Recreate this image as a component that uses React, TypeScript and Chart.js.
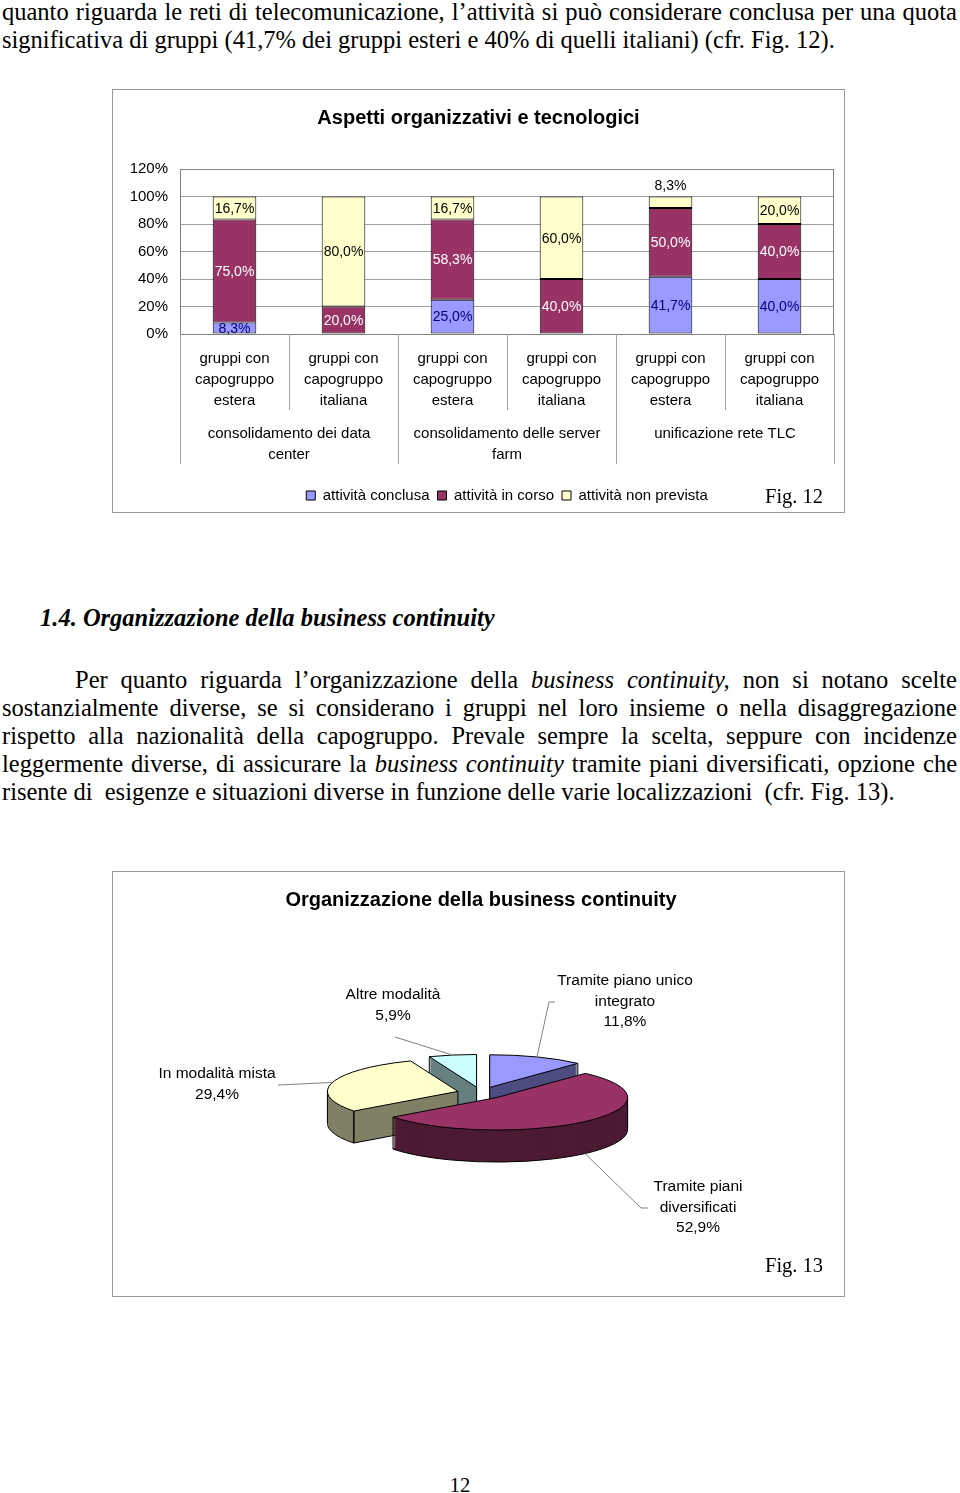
import React, { useEffect, useRef } from "react";
import { Chart, registerables } from "chart.js";

Chart.register(...registerables);

// ---------------- Fig. 12 data ----------------
const SUB_CATEGORIES: string[][] = [
  ["gruppi con", "capogruppo", "estera"],
  ["gruppi con", "capogruppo", "italiana"],
  ["gruppi con", "capogruppo", "estera"],
  ["gruppi con", "capogruppo", "italiana"],
  ["gruppi con", "capogruppo", "estera"],
  ["gruppi con", "capogruppo", "italiana"],
];
const GROUP_LABELS: string[][] = [
  ["consolidamento dei data", "center"],
  ["consolidamento delle server", "farm"],
  ["unificazione rete TLC"],
];
const SERIES_NAMES = ["attività conclusa", "attività in corso", "attività non prevista"];
const CONCLUSA = [8.3, 0, 25.0, 0, 41.7, 40.0];
const IN_CORSO = [75.0, 20.0, 58.3, 40.0, 50.0, 40.0];
const NON_PREVISTA = [16.7, 80.0, 16.7, 60.0, 8.3, 20.0];
const Y_MIN = 0;
const Y_MAX = 120;
const Y_STEP = 20;

// ---------------- Fig. 13 data ----------------
const PIE_CATEGORIES = [
  "Tramite piano unico integrato",
  "Tramite piani diversificati",
  "In modalità mista",
  "Altre modalità",
];
const PIE_VALUES = [11.8, 52.9, 29.4, 5.9];
const PIE_LABEL_LINES: string[][] = [
  ["Tramite piano unico", "integrato"],
  ["Tramite piani", "diversificati"],
  ["In modalità mista"],
  ["Altre modalità"],
];

// ---------------- styles / layout ----------------
const SANS = "'Liberation Sans', Arial, sans-serif";
const SERIF = "'Liberation Serif', 'Times New Roman', serif";
const BAR_COLORS = ["#9999FF", "#993366", "#FFFFCC"];
const BAR_LABEL_COLORS = ["#000080", "#FFFFFF", "#000000"];
const PIE_COLORS = ["#9999FF", "#993366", "#FFFFCC", "#CCFFFF"];
const PIE_SIDE_COLORS = ["#4D4D80", "#4D1A33", "#808066", "#668080"];
const BOX1 = { left: 112, top: 89, width: 733, height: 424 };
const BOX2 = { left: 112, top: 871, width: 733, height: 426 };
// label blocks of the pie (page coordinates): centre x, first line y, leader start points
const PIE_LABEL_LAYOUT = [
  { cx: 625, y: 981, from: [[555, 1002], [549, 1002]] },
  { cx: 698, y: 1187, from: [[648, 1208], [641, 1208]] },
  { cx: 217, y: 1074, from: [[278, 1085]] },
  { cx: 393, y: 995, from: [[395, 1037]] },
];
const K = 0.25; // vertical squash of the pie
const DEPTH = 32; // thickness of the 3D pie
const EXPLODE = 24; // explosion of slices

const fmtPct = (v: number) => v.toFixed(1).replace(".", ",") + "%";

function BarChart() {
  const ref = useRef<HTMLCanvasElement>(null);
  useEffect(() => {
    const labelPlugin = {
      id: "barLabels",
      afterDatasetsDraw(chart: any) {
        const ctx = chart.ctx;
        ctx.save();
        ctx.font = `14px ${SANS}`;
        ctx.textAlign = "center";
        ctx.textBaseline = "middle";
        const n = chart.data.datasets.length;
        chart.data.datasets.forEach((ds: any, i: number) => {
          const meta = chart.getDatasetMeta(i);
          meta.data.forEach((bar: any, j: number) => {
            const v = ds.data[j];
            if (!v) return;
            const above = i === n - 1 && v < 10;
            ctx.fillStyle = above ? "#000" : BAR_LABEL_COLORS[i];
            const y = above ? bar.y - 10 : (bar.y + bar.base) / 2 + 1;
            ctx.fillText(fmtPct(v), bar.x, y);
          });
        });
        ctx.restore();
      },
    };
    const framePlugin = {
      id: "frame",
      beforeDatasetsDraw(chart: any) {
        const ctx = chart.ctx;
        const { left, top, right, bottom } = chart.chartArea;
        ctx.save();
        ctx.strokeStyle = "#808080";
        ctx.lineWidth = 1;
        ctx.strokeRect(Math.round(left) + 0.5, Math.round(top) + 0.5, Math.round(right - left) - 1, Math.round(bottom - top));
        ctx.restore();
      },
      afterDraw(chart: any) {
        const ctx = chart.ctx;
        const xs = chart.scales.x;
        const bottom = chart.chartArea.bottom;
        ctx.save();
        ctx.strokeStyle = "#A0A0A0";
        ctx.lineWidth = 1;
        ctx.beginPath();
        for (let i = 0; i <= SUB_CATEGORIES.length; i++) {
          const x = Math.round(xs.getPixelForValue(i - 0.5)) + 0.5;
          const len = i % 2 === 0 ? 130 : 76;
          ctx.moveTo(x, bottom);
          ctx.lineTo(x, bottom + len);
        }
        ctx.stroke();
        ctx.restore();
      },
    };
    const tickFont = { family: SANS, size: 15, lineHeight: 1.37 };
    const chart = new Chart(ref.current!, {
      type: "bar",
      data: {
        labels: SUB_CATEGORIES,
        datasets: [CONCLUSA, IN_CORSO, NON_PREVISTA].map((d, i) => ({
          label: SERIES_NAMES[i],
          data: d,
          backgroundColor: BAR_COLORS[i],
          borderColor: "#000",
          borderWidth: 1,
          borderSkipped: false,
          barPercentage: 0.4,
          categoryPercentage: 1,
        })),
      },
      options: {
        responsive: false,
        animation: false,
        layout: { padding: { left: 11, right: 11, top: 0, bottom: 0 } },
        scales: {
          x: {
            stacked: true,
            grid: { display: false, drawTicks: false },
            border: { display: false },
            ticks: { font: tickFont, color: "#000", padding: 15, autoSkip: false, maxRotation: 0 },
            afterFit: (s: any) => {
              s.height = 88;
            },
          },
          x2: {
            type: "category",
            labels: GROUP_LABELS as any,
            position: "bottom",
            offset: true,
            weight: 1,
            grid: { display: false, drawTicks: false },
            border: { display: false },
            ticks: { font: tickFont, color: "#000", padding: 2, autoSkip: false, maxRotation: 0 },
            afterFit: (s: any) => {
              s.height = 58;
            },
          },
          y: {
            stacked: true,
            min: Y_MIN,
            max: Y_MAX,
            grid: { color: "#A0A0A0", drawTicks: false },
            border: { display: false },
            ticks: {
              stepSize: Y_STEP,
              padding: 12,
              color: "#000",
              font: { family: SANS, size: 15 },
              callback: (v: any) => v + "%",
            },
            afterFit: (s: any) => {
              s.width = 57;
            },
          },
        },
        plugins: {
          title: {
            display: true,
            text: "Aspetti organizzativi e tecnologici",
            color: "#000",
            font: { family: SANS, size: 20, weight: "bold", lineHeight: 1.2 },
            padding: { top: 17, bottom: 39 },
          },
          legend: {
            position: "bottom",
            fullSize: false,
            labels: {
              boxWidth: 9,
              boxHeight: 9,
              padding: 8,
              color: "#000",
              font: { family: SANS, size: 15 },
            },
          },
          tooltip: { enabled: false },
        },
      } as any,
      plugins: [framePlugin, labelPlugin],
    });
    return () => chart.destroy();
  }, []);
  return (
    <canvas
      ref={ref}
      width={BOX1.width}
      height={BOX1.height}
      style={{ position: "absolute", left: BOX1.left, top: BOX1.top, width: BOX1.width, height: BOX1.height }}
    />
  );
}

function PieChart() {
  const ref = useRef<HTMLCanvasElement>(null);
  useEffect(() => {
    const squash = (ctx: any, cx: number, cy: number) => {
      ctx.translate(cx, cy);
      ctx.scale(1, K);
      ctx.translate(-cx, -cy);
    };
    const center = (chart: any) => {
      const { left, right, top, bottom } = chart.chartArea;
      return [(left + right) / 2, (top + bottom) / 2];
    };
    const drawArcAs = (arc: any, ctx: any, color: string) => {
      const fake = Object.create(arc);
      fake.options = Object.assign({}, arc.options, { backgroundColor: color, borderColor: color, borderWidth: 0 });
      arc.draw.call(fake, ctx);
    };
    const strokeArc = (ctx: any, a: any, cx: number, cy: number, dy: number) => {
      ctx.save();
      ctx.translate(0, dy);
      squash(ctx, cx, cy);
      ctx.beginPath();
      ctx.moveTo(a.x, a.y);
      ctx.arc(a.x, a.y, a.outerRadius, a.startAngle, a.endAngle);
      ctx.closePath();
      ctx.restore();
      ctx.save();
      ctx.strokeStyle = "#000";
      ctx.lineWidth = 1;
      ctx.stroke();
      ctx.restore();
    };
    const TAU = Math.PI * 2;
    const norm = (t: number) => ((t % TAU) + TAU) % TAU;
    const pie3d = {
      id: "pie3d",
      afterUpdate(chart: any) {
        chart.getDatasetMeta(0).data.forEach((a: any) => {
          const m = (a.startAngle + a.endAngle) / 2;
          a.x += Math.cos(m) * EXPLODE;
          a.y += Math.sin(m) * EXPLODE;
        });
      },
      beforeDatasetsDraw(chart: any) {
        const ctx = chart.ctx;
        const [cx, cy] = center(chart);
        const arcs = chart.getDatasetMeta(0).data;
        for (let d = DEPTH; d >= 1; d--) {
          ctx.save();
          ctx.translate(0, d);
          squash(ctx, cx, cy);
          arcs.forEach((a: any, i: number) => drawArcAs(a, ctx, PIE_SIDE_COLORS[i]));
          ctx.restore();
          if (d === DEPTH) arcs.forEach((a: any) => strokeArc(ctx, a, cx, cy, d));
        }
        // vertical edges of the side faces
        ctx.save();
        ctx.strokeStyle = "#000";
        ctx.lineWidth = 1;
        ctx.beginPath();
        arcs.forEach((a: any) => {
          const s = a.startAngle;
          const e = a.endAngle;
          const r = a.outerRadius;
          const within = (t: number) => {
            const ts = norm(t - s);
            return ts > 0 && ts < e - s;
          };
          const angles: number[] = [];
          [0, Math.PI].forEach((t) => {
            if (within(t)) angles.push(t);
          });
          [s, e].forEach((t) => {
            if (Math.sin(t) > 0.01) angles.push(t);
          });
          const startFace = Math.sin(s - Math.PI / 2) > 0.01;
          const endFace = Math.sin(e + Math.PI / 2) > 0.01;
          if (startFace) angles.push(s);
          if (endFace) angles.push(e);
          const pts = angles.map((t) => [a.x + Math.cos(t) * r, cy + (a.y + Math.sin(t) * r - cy) * K]);
          if (startFace || endFace) pts.push([a.x, cy + (a.y - cy) * K]);
          pts.forEach(([x, y]) => {
            ctx.moveTo(x, y);
            ctx.lineTo(x, y + DEPTH);
          });
        });
        ctx.stroke();
        ctx.restore();
        ctx.save();
        squash(ctx, cx, cy);
      },
      afterDatasetsDraw(chart: any) {
        const ctx = chart.ctx;
        ctx.restore();
        const [cx, cy] = center(chart);
        chart.getDatasetMeta(0).data.forEach((a: any) => strokeArc(ctx, a, cx, cy, 0));
      },
      afterDraw(chart: any) {
        const ctx = chart.ctx;
        const [cx, cy] = center(chart);
        const arcs = chart.getDatasetMeta(0).data;
        ctx.save();
        ctx.font = `15.5px ${SANS}`;
        ctx.textAlign = "center";
        ctx.textBaseline = "middle";
        ctx.fillStyle = "#000";
        PIE_LABEL_LAYOUT.forEach((L, i) => {
          const lines = [...PIE_LABEL_LINES[i], fmtPct(PIE_VALUES[i])];
          lines.forEach((t, k) => ctx.fillText(t, L.cx - BOX2.left, L.y - BOX2.top + k * 20.5));
          const a = arcs[i];
          const m = (a.startAngle + a.endAngle) / 2;
          const ax = a.x + Math.cos(m) * a.outerRadius;
          let ay = cy + (a.y + Math.sin(m) * a.outerRadius - cy) * K;
          if (Math.sin(m) > 0) ay += DEPTH;
          ctx.strokeStyle = "#808080";
          ctx.lineWidth = 1;
          ctx.beginPath();
          L.from.forEach(([x, y], k) => {
            if (k === 0) ctx.moveTo(x - BOX2.left, y - BOX2.top);
            else ctx.lineTo(x - BOX2.left, y - BOX2.top);
          });
          ctx.lineTo(ax, ay);
          ctx.stroke();
        });
        ctx.restore();
      },
    };
    const chart = new Chart(ref.current!, {
      type: "pie",
      data: {
        labels: PIE_CATEGORIES,
        datasets: [
          {
            data: PIE_VALUES,
            backgroundColor: PIE_COLORS,
            borderWidth: 0,
            clip: false,
          } as any,
        ],
      },
      options: {
        responsive: false,
        animation: false,
        layout: { padding: { left: 100, right: 95, top: 0, bottom: 73.5 } },
        plugins: {
          title: {
            display: true,
            text: "Organizzazione della business continuity",
            color: "#000",
            font: { family: SANS, size: 20, weight: "bold", lineHeight: 1.2 },
            padding: { top: 17, bottom: 50.5 },
          },
          legend: { display: false },
          tooltip: { enabled: false },
        },
      } as any,
      plugins: [pie3d],
    });
    return () => chart.destroy();
  }, []);
  return (
    <canvas
      ref={ref}
      width={BOX2.width}
      height={BOX2.height}
      style={{ position: "absolute", left: BOX2.left, top: BOX2.top, width: BOX2.width, height: BOX2.height }}
    />
  );
}

const textBase: React.CSSProperties = {
  position: "absolute",
  fontFamily: SERIF,
  fontSize: 24.5,
  lineHeight: "28px",
  color: "#000",
  margin: 0,
  whiteSpace: "nowrap",
};

function Line({ y, left, width, justify, children, style }: any) {
  return (
    <div
      style={{
        ...textBase,
        top: y - 14,
        left,
        width,
        textAlign: justify ? "justify" : "left",
        textAlignLast: justify ? "justify" : "auto",
        whiteSpace: justify ? "normal" : "nowrap",
        ...style,
      }}
    >
      {children}
    </div>
  );
}

export default function App() {
  const boxStyle = (b: any): React.CSSProperties => ({
    position: "absolute",
    left: b.left,
    top: b.top,
    width: b.width,
    height: b.height,
    border: "1px solid #999",
    boxSizing: "border-box",
  });
  return (
    <div style={{ position: "absolute", left: 0, top: 0, width: 960, height: 1493, background: "#fff", overflow: "hidden" }}>
      <Line y={12} left={2} width={955} justify>
        quanto riguarda le reti di telecomunicazione, l’attività si può considerare conclusa per una quota
      </Line>
      <Line y={40} left={2} width={955}>
        significativa di gruppi (41,7% dei gruppi esteri e 40% di quelli italiani) (cfr. Fig. 12).
      </Line>

      <div style={boxStyle(BOX1)} />
      <BarChart />
      <Line y={496} left={765} width={80} style={{ fontSize: 20.5 }}>
        Fig. 12
      </Line>

      <Line y={618} left={40} width={700} style={{ fontWeight: "bold", fontStyle: "italic", fontSize: 24.5 }}>
        1.4. Organizzazione della business continuity
      </Line>

      <Line y={680} left={75} width={882} justify>
        Per quanto riguarda l’organizzazione della <i>business continuity,</i> non si notano scelte
      </Line>
      <Line y={708} left={2} width={955} justify>
        sostanzialmente diverse, se si considerano i gruppi nel loro insieme o nella disaggregazione
      </Line>
      <Line y={736} left={2} width={955} justify>
        rispetto alla nazionalità della capogruppo. Prevale sempre la scelta, seppure con incidenze
      </Line>
      <Line y={764} left={2} width={955} justify>
        leggermente diverse, di assicurare la <i>business continuity</i> tramite piani diversificati, opzione che
      </Line>
      <Line y={792} left={2} width={955}>
        risente di&nbsp; esigenze e situazioni diverse in funzione delle varie localizzazioni&nbsp; (cfr. Fig. 13).
      </Line>

      <div style={boxStyle(BOX2)} />
      <PieChart />
      <Line y={1265} left={765} width={80} style={{ fontSize: 20.5 }}>
        Fig. 13
      </Line>

      <Line y={1485} left={440} width={40} style={{ fontSize: 20.5, textAlign: "center" }}>
        12
      </Line>
    </div>
  );
}
